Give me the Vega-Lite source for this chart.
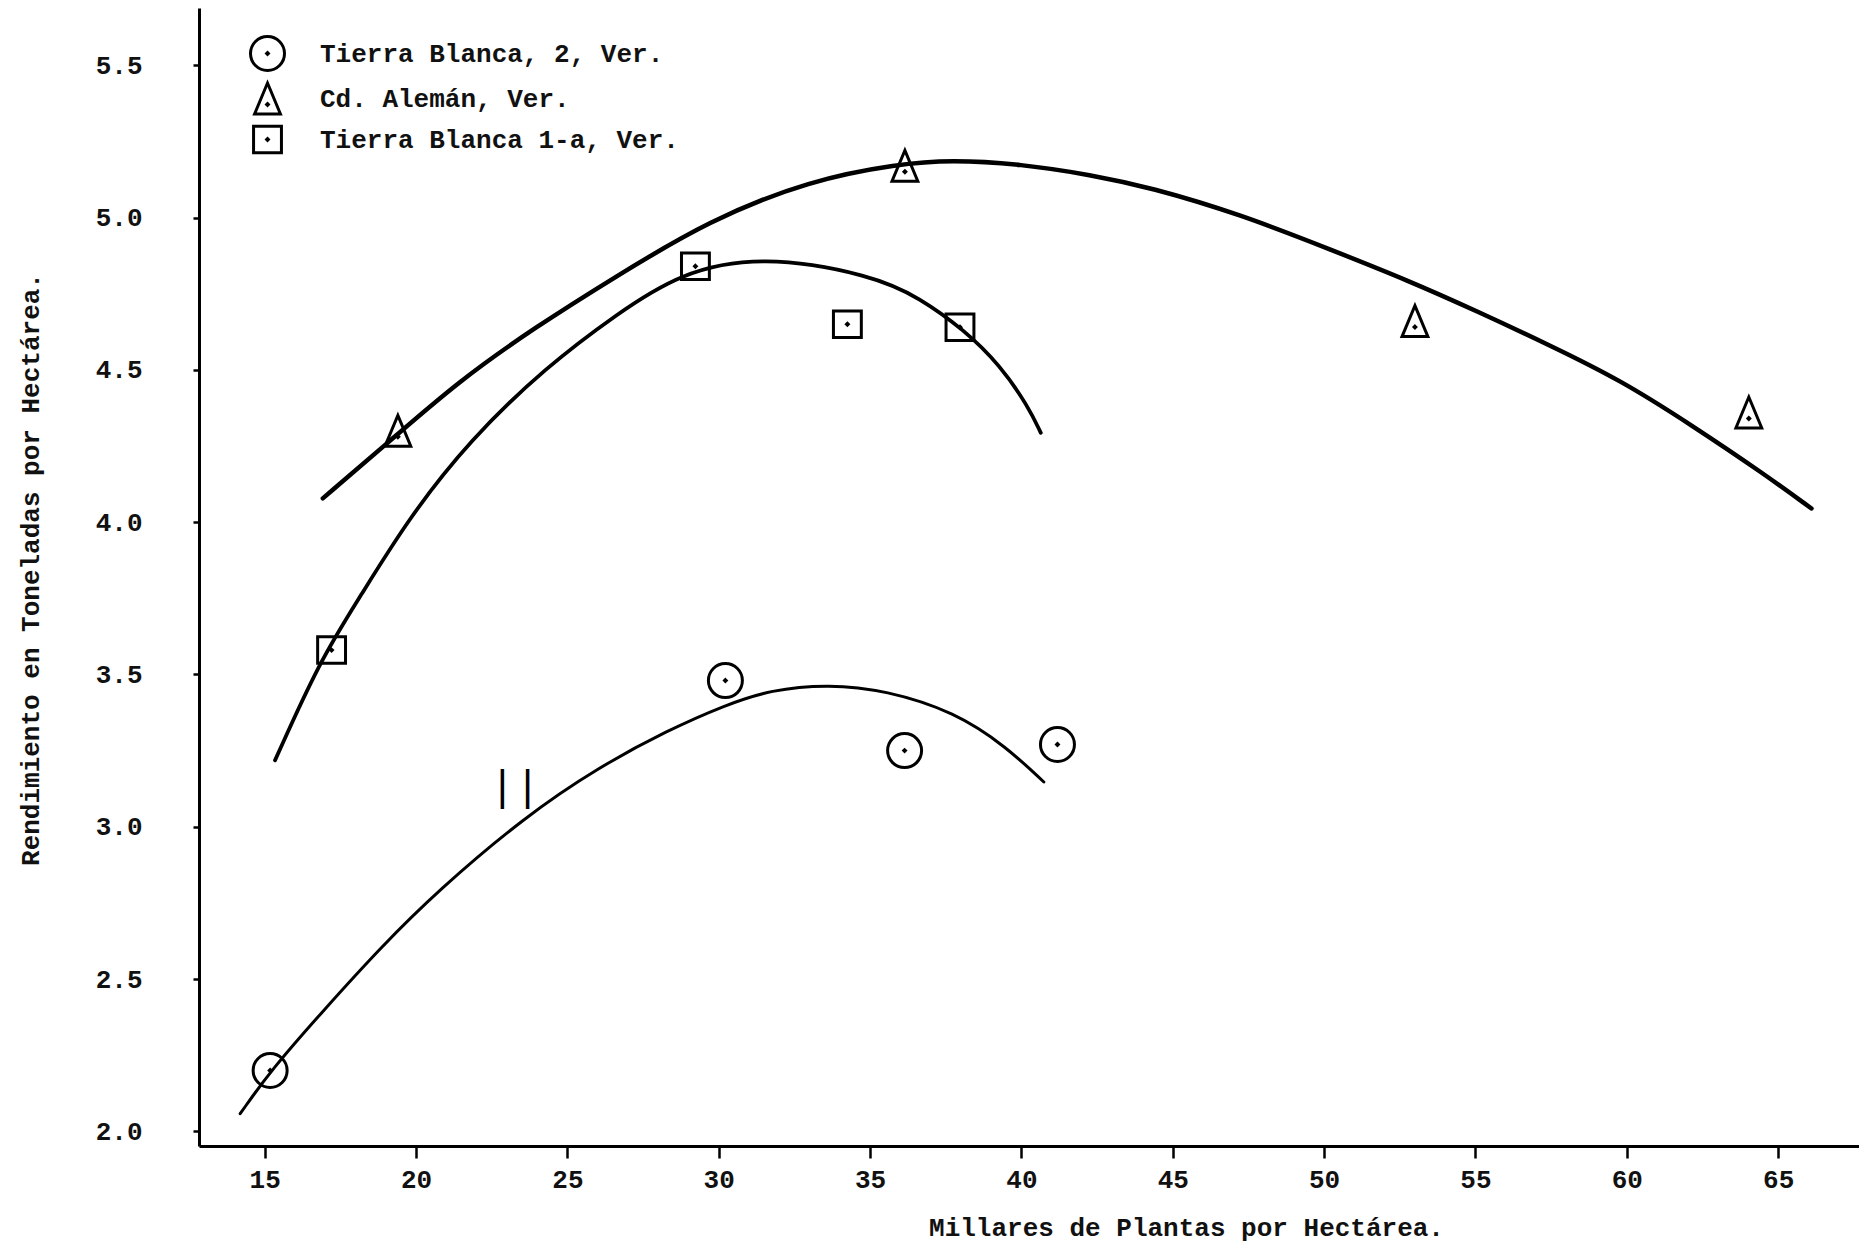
{
  "$schema": "https://vega.github.io/schema/vega-lite/v6.json",
  "width": 1660,
  "height": 1138,
  "autosize": {"type": "none"},
  "padding": {"left": 199, "top": 8, "right": 0, "bottom": 98},
  "background": "white",
  "config": {
    "view": {"stroke": null},
    "font": "Liberation Mono",
    "axis": {
      "grid": false,
      "domainColor": "black",
      "domainWidth": 3,
      "tickColor": "black",
      "tickWidth": 2.5,
      "labelFont": "Liberation Mono",
      "labelFontSize": 26,
      "labelFontWeight": "bold",
      "labelColor": "#111",
      "titleFont": "Liberation Mono",
      "titleFontSize": 26,
      "titleFontWeight": "bold",
      "titleColor": "#111"
    },
    "legend": {
      "orient": "none",
      "legendX": 50,
      "legendY": 27,
      "padding": 0,
      "labelFont": "Liberation Mono",
      "labelFontSize": 26,
      "labelFontWeight": "bold",
      "labelColor": "#111",
      "labelLimit": 0,
      "labelOffset": 34,
      "rowPadding": 0,
      "symbolSize": 1156,
      "symbolStrokeWidth": 3,
      "symbolStrokeColor": "black",
      "symbolFillColor": "transparent"
    }
  },
  "datasets": {
    "puntos": [
      {"serie": "Tierra Blanca, 2, Ver.", "millares": 15.18, "rendimiento": 2.20},
      {"serie": "Tierra Blanca, 2, Ver.", "millares": 30.22, "rendimiento": 3.48},
      {"serie": "Tierra Blanca, 2, Ver.", "millares": 36.14, "rendimiento": 3.25},
      {"serie": "Tierra Blanca, 2, Ver.", "millares": 41.19, "rendimiento": 3.27},
      {"serie": "Cd. Alemán, Ver.", "millares": 19.40, "rendimiento": 4.30},
      {"serie": "Cd. Alemán, Ver.", "millares": 36.15, "rendimiento": 5.17},
      {"serie": "Cd. Alemán, Ver.", "millares": 53.00, "rendimiento": 4.66},
      {"serie": "Cd. Alemán, Ver.", "millares": 64.03, "rendimiento": 4.36},
      {"serie": "Tierra Blanca 1-a, Ver.", "millares": 17.21, "rendimiento": 3.58},
      {"serie": "Tierra Blanca 1-a, Ver.", "millares": 29.23, "rendimiento": 4.84},
      {"serie": "Tierra Blanca 1-a, Ver.", "millares": 34.25, "rendimiento": 4.65},
      {"serie": "Tierra Blanca 1-a, Ver.", "millares": 37.97, "rendimiento": 4.64}
    ],
    "curvas": [
      {"serie": "Cd. Alemán, Ver.", "millares": 16.92, "rendimiento": 4.078},
      {"serie": "Cd. Alemán, Ver.", "millares": 18.91, "rendimiento": 4.247},
      {"serie": "Cd. Alemán, Ver.", "millares": 21.44, "rendimiento": 4.466},
      {"serie": "Cd. Alemán, Ver.", "millares": 23.96, "rendimiento": 4.641},
      {"serie": "Cd. Alemán, Ver.", "millares": 26.49, "rendimiento": 4.800},
      {"serie": "Cd. Alemán, Ver.", "millares": 29.70, "rendimiento": 4.992},
      {"serie": "Cd. Alemán, Ver.", "millares": 33.03, "rendimiento": 5.123},
      {"serie": "Cd. Alemán, Ver.", "millares": 35.93, "rendimiento": 5.176},
      {"serie": "Cd. Alemán, Ver.", "millares": 37.67, "rendimiento": 5.189},
      {"serie": "Cd. Alemán, Ver.", "millares": 39.98, "rendimiento": 5.176},
      {"serie": "Cd. Alemán, Ver.", "millares": 42.31, "rendimiento": 5.140},
      {"serie": "Cd. Alemán, Ver.", "millares": 44.25, "rendimiento": 5.099},
      {"serie": "Cd. Alemán, Ver.", "millares": 47.22, "rendimiento": 5.011},
      {"serie": "Cd. Alemán, Ver.", "millares": 50.26, "rendimiento": 4.893},
      {"serie": "Cd. Alemán, Ver.", "millares": 52.74, "rendimiento": 4.795},
      {"serie": "Cd. Alemán, Ver.", "millares": 55.09, "rendimiento": 4.691},
      {"serie": "Cd. Alemán, Ver.", "millares": 57.45, "rendimiento": 4.581},
      {"serie": "Cd. Alemán, Ver.", "millares": 59.80, "rendimiento": 4.466},
      {"serie": "Cd. Alemán, Ver.", "millares": 62.15, "rendimiento": 4.318},
      {"serie": "Cd. Alemán, Ver.", "millares": 64.51, "rendimiento": 4.160},
      {"serie": "Cd. Alemán, Ver.", "millares": 66.10, "rendimiento": 4.045},
      {"serie": "Tierra Blanca 1-a, Ver.", "millares": 15.34, "rendimiento": 3.218},
      {"serie": "Tierra Blanca 1-a, Ver.", "millares": 16.83, "rendimiento": 3.547},
      {"serie": "Tierra Blanca 1-a, Ver.", "millares": 18.15, "rendimiento": 3.755},
      {"serie": "Tierra Blanca 1-a, Ver.", "millares": 19.75, "rendimiento": 4.012},
      {"serie": "Tierra Blanca 1-a, Ver.", "millares": 21.77, "rendimiento": 4.269},
      {"serie": "Tierra Blanca 1-a, Ver.", "millares": 24.30, "rendimiento": 4.510},
      {"serie": "Tierra Blanca 1-a, Ver.", "millares": 26.66, "rendimiento": 4.685},
      {"serie": "Tierra Blanca 1-a, Ver.", "millares": 28.69, "rendimiento": 4.817},
      {"serie": "Tierra Blanca 1-a, Ver.", "millares": 31.38, "rendimiento": 4.877},
      {"serie": "Tierra Blanca 1-a, Ver.", "millares": 35.09, "rendimiento": 4.811},
      {"serie": "Tierra Blanca 1-a, Ver.", "millares": 36.65, "rendimiento": 4.736},
      {"serie": "Tierra Blanca 1-a, Ver.", "millares": 38.12, "rendimiento": 4.630},
      {"serie": "Tierra Blanca 1-a, Ver.", "millares": 39.29, "rendimiento": 4.516},
      {"serie": "Tierra Blanca 1-a, Ver.", "millares": 40.23, "rendimiento": 4.379},
      {"serie": "Tierra Blanca 1-a, Ver.", "millares": 40.64, "rendimiento": 4.293},
      {"serie": "Tierra Blanca, 2, Ver.", "millares": 14.19, "rendimiento": 2.058},
      {"serie": "Tierra Blanca, 2, Ver.", "millares": 15.20, "rendimiento": 2.200},
      {"serie": "Tierra Blanca, 2, Ver.", "millares": 16.94, "rendimiento": 2.397},
      {"serie": "Tierra Blanca, 2, Ver.", "millares": 18.84, "rendimiento": 2.605},
      {"serie": "Tierra Blanca, 2, Ver.", "millares": 20.73, "rendimiento": 2.791},
      {"serie": "Tierra Blanca, 2, Ver.", "millares": 23.58, "rendimiento": 3.032},
      {"serie": "Tierra Blanca, 2, Ver.", "millares": 26.04, "rendimiento": 3.196},
      {"serie": "Tierra Blanca, 2, Ver.", "millares": 28.32, "rendimiento": 3.317},
      {"serie": "Tierra Blanca, 2, Ver.", "millares": 30.20, "rendimiento": 3.399},
      {"serie": "Tierra Blanca, 2, Ver.", "millares": 31.72, "rendimiento": 3.450},
      {"serie": "Tierra Blanca, 2, Ver.", "millares": 33.63, "rendimiento": 3.468},
      {"serie": "Tierra Blanca, 2, Ver.", "millares": 35.52, "rendimiento": 3.448},
      {"serie": "Tierra Blanca, 2, Ver.", "millares": 37.80, "rendimiento": 3.377},
      {"serie": "Tierra Blanca, 2, Ver.", "millares": 39.51, "rendimiento": 3.262},
      {"serie": "Tierra Blanca, 2, Ver.", "millares": 40.74, "rendimiento": 3.147}
    ],
    "anotacion": [
      {"millares": 23.27, "rendimiento": 3.13, "texto": "||"}
    ]
  },
  "layer": [
    {
      "data": {"name": "curvas"},
      "mark": {"type": "line", "interpolate": "basis", "color": "black", "strokeCap": "round"},
      "encoding": {
        "x": {
          "field": "millares", "type": "quantitative",
          "scale": {"domain": [12.83, 67.67], "nice": false, "zero": false},
          "axis": {
            "title": "Millares de Plantas por Hectárea.",
            "values": [15, 20, 25, 30, 35, 40, 45, 50, 55, 60, 65],
            "format": "d",
            "tickSize": 12,
            "labelPadding": 8,
            "titleX": 987,
            "titleY": 81,
            "titleAlign": "center",
            "titleBaseline": "middle"
          }
        },
        "y": {
          "field": "rendimiento", "type": "quantitative",
          "scale": {"domain": [1.952, 5.688], "nice": false, "zero": false},
          "axis": {
            "title": "Rendimiento en Toneladas por Hectárea.",
            "values": [2, 2.5, 3, 3.5, 4, 4.5, 5, 5.5],
            "format": ".1f",
            "tickSize": 6,
            "labelPadding": 51,
            "titleX": -169,
            "titleY": 561,
            "titleAngle": 270,
            "titleAlign": "center",
            "titleBaseline": "middle"
          }
        },
        "detail": {"field": "serie", "type": "nominal"},
        "strokeWidth": {
          "field": "serie", "type": "nominal",
          "scale": {"domain": ["Cd. Alemán, Ver.", "Tierra Blanca 1-a, Ver.", "Tierra Blanca, 2, Ver."], "range": [4.5, 3, 3]},
          "legend": null
        }
      }
    },
    {
      "data": {"name": "puntos"},
      "mark": {"type": "point", "filled": false, "color": "black", "strokeWidth": 3, "size": 1156, "opacity": 1},
      "encoding": {
        "x": {"field": "millares", "type": "quantitative"},
        "y": {"field": "rendimiento", "type": "quantitative"},
        "shape": {
          "field": "serie", "type": "nominal",
          "scale": {
            "domain": ["Tierra Blanca, 2, Ver.", "Cd. Alemán, Ver.", "Tierra Blanca 1-a, Ver."],
            "range": [
              "M-1,0A1,1 0 1,1 1,0A1,1 0 1,1 -1,0Z M0,-0.05L0.05,0L0,0.05L-0.05,0Z",
              "M0,-0.91L0.76,0.91L-0.76,0.91Z M0,0.3L0.05,0.35L0,0.4L-0.05,0.35Z",
              "M-0.82,-0.78L0.82,-0.78L0.82,0.78L-0.82,0.78Z M0,-0.05L0.05,0L0,0.05L-0.05,0Z"
            ]
          },
          "legend": {"title": null}
        }
      }
    },
    {
      "data": {"name": "anotacion"},
      "mark": {"type": "text", "font": "Liberation Mono", "fontSize": 42, "color": "black", "align": "center", "baseline": "middle"},
      "encoding": {
        "x": {"field": "millares", "type": "quantitative"},
        "y": {"field": "rendimiento", "type": "quantitative"},
        "text": {"field": "texto"}
      }
    }
  ]
}
